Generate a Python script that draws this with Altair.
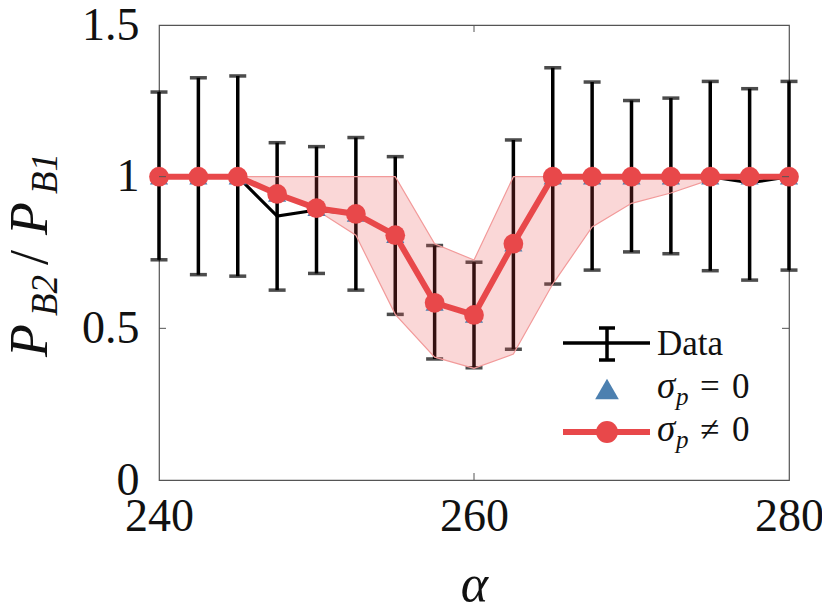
import altair as alt
import pandas as pd

alpha = [240, 242.5, 245, 247.5, 250, 252.5, 255, 257.5, 260, 262.5, 265, 267.5, 270, 272.5, 275, 277.5, 280]
data_val = [1.0, 1.0, 1.0, 0.87, 0.89, 0.877, 0.806, 0.586, 0.544, 0.776, 1.0, 1.0, 1.0, 1.0, 1.0, 0.98, 1.0]
err_hi = [1.279, 1.326, 1.332, 1.112, 1.099, 1.129, 1.066, 0.773, 0.718, 1.121, 1.359, 1.312, 1.251, 1.259, 1.314, 1.29, 1.314]
err_lo = [0.726, 0.677, 0.672, 0.626, 0.681, 0.626, 0.546, 0.399, 0.37, 0.431, 0.646, 0.692, 0.752, 0.746, 0.69, 0.659, 0.692]
sigma0 = [1.0, 1.0, 1.0, 0.943, 0.896, 0.877, 0.807, 0.584, 0.544, 0.779, 1.0, 1.0, 1.0, 1.0, 1.0, 1.0, 1.0]
sigma_nz = [1.0, 1.0, 1.0, 0.943, 0.896, 0.877, 0.807, 0.584, 0.544, 0.779, 1.0, 1.0, 1.0, 1.0, 1.0, 1.0, 1.0]
band_hi = [1.0, 1.0, 1.0, 1.0, 1.0, 1.0, 1.0, 0.779, 0.725, 1.0, 1.0, 1.0, 1.0, 1.0, 1.0, 1.0, 1.0]
band_lo = [1.0, 1.0, 1.0, 0.943, 0.89, 0.807, 0.546, 0.405, 0.368, 0.415, 0.646, 0.834, 0.912, 0.946, 0.99, 1.0, 1.0]

x_ticks = [240, 260, 280]
y_ticks = [0, 0.5, 1, 1.5]
x_inner_ticks = [260]
y_inner_ticks = [0.5, 1]

RED = "#E8484A"
BLUE = "#4C80B0"
FONT = "Liberation Serif"

W, H = 630, 455

df = pd.DataFrame({
    "alpha": alpha, "data": data_val, "hi": err_hi, "lo": err_lo,
    "s0": sigma0, "snz": sigma_nz, "bhi": band_hi, "blo": band_lo,
})

xs = alt.Scale(domain=[240, 280], nice=False, zero=False)
ys = alt.Scale(domain=[0, 1.5], nice=False)

X = alt.X("alpha:Q", scale=xs, axis=alt.Axis(
    values=x_ticks, format="d", title="α", ticks=False, domain=False, grid=False,
    labelFlush=False, labelOverlap=False,
    labelFont=FONT, labelFontSize=46, labelColor="#111", labelPadding=14,
    titleFont=FONT, titleFontSize=52, titleFontStyle="italic", titleFontWeight="normal",
    titleColor="#111", titlePadding=20))
Xp = alt.X("alpha:Q", scale=xs)

base = alt.Chart(df)

bars = base.mark_rule(color="black", strokeWidth=3.5).encode(
    x=X,
    y=alt.Y("lo:Q", scale=ys, axis=alt.Axis(
        values=y_ticks, labelExpr="datum.value == 0 ? '0' : format(datum.value, '.2~f')",
        title=None, ticks=False, domain=False, grid=False,
        labelFlush=False, labelOverlap=False,
        labelFont=FONT, labelFontSize=46, labelColor="#111", labelPadding=20)),
    y2="hi:Q")
cap_hi = base.mark_tick(color="black", thickness=3.5, size=17, orient="horizontal").encode(
    x=Xp, y=alt.Y("hi:Q", scale=ys))
cap_lo = base.mark_tick(color="black", thickness=3.5, size=17, orient="horizontal").encode(
    x=Xp, y=alt.Y("lo:Q", scale=ys))
data_line = base.mark_line(color="black", strokeWidth=3.2).encode(
    x=Xp, y=alt.Y("data:Q", scale=ys))
band = base.mark_area(fill=RED, fillOpacity=0.22, stroke="#F29A9A", strokeWidth=1.2, strokeOpacity=1).encode(
    x=Xp, y=alt.Y("blo:Q", scale=ys), y2="bhi:Q")
tri = base.mark_point(shape="triangle-up", filled=True, color=BLUE, opacity=1, size=330).encode(
    x=Xp, y=alt.Y("s0:Q", scale=ys))
red_line = base.mark_line(color=RED, strokeWidth=6).encode(
    x=Xp, y=alt.Y("snz:Q", scale=ys))
red_pts = base.mark_circle(color=RED, opacity=1, size=390).encode(
    x=Xp, y=alt.Y("snz:Q", scale=ys))

# inward ticks (box style)
ytk = pd.DataFrame({"v": y_inner_ticks})
xtk = pd.DataFrame({"v": x_inner_ticks})
TK = "#555"
yt_left = alt.Chart(ytk).mark_rule(color=TK, strokeWidth=1).encode(
    y=alt.Y("v:Q", scale=ys), x=alt.value(0), x2=alt.value(7))
yt_right = alt.Chart(ytk).mark_rule(color=TK, strokeWidth=1).encode(
    y=alt.Y("v:Q", scale=ys), x=alt.value(W - 7), x2=alt.value(W))
xt_bot = alt.Chart(xtk).mark_rule(color=TK, strokeWidth=1).encode(
    x=alt.X("v:Q", scale=xs), y=alt.value(H - 7), y2=alt.value(H))
xt_top = alt.Chart(xtk).mark_rule(color=TK, strokeWidth=1).encode(
    x=alt.X("v:Q", scale=xs), y=alt.value(0), y2=alt.value(7))

one = pd.DataFrame({"a": [0]})

def txt(s, x, y, size, style="normal", angle=0, align="left", baseline="alphabetic"):
    return alt.Chart(one).mark_text(
        text=s, font=FONT, fontSize=size, fontStyle=style, color="#111",
        angle=angle, align=align, baseline=baseline).encode(
        x=alt.value(x), y=alt.value(y))

def seg(x1, x2, y1, y2, color, w):
    return alt.Chart(one).mark_rule(color=color, strokeWidth=w).encode(
        x=alt.value(x1), x2=alt.value(x2), y=alt.value(y1), y2=alt.value(y2))

# y-axis title: P_{B2}/P_{B1}
ytitle = [
    txt("P", -112, 332, 54, "italic", 270),
    txt("B2", -102, 291, 37, "italic", 270),
    txt("/", -112, 240, 54, "normal", 270),
    txt("P", -112, 210, 54, "italic", 270),
    txt("B1", -102, 169, 37, "italic", 270),
]

# legend
LX = 448
leg = [
    seg(404, 491, 318, 318, "black", 3.5),
    seg(LX, LX, 302, 336, "black", 3.5),
    seg(LX - 8, LX + 8, 303, 303, "black", 3.5),
    seg(LX - 8, LX + 8, 335, 335, "black", 3.5),
    txt("Data", 498, 330, 35),
    alt.Chart(one).mark_point(shape="triangle-up", filled=True, color=BLUE, opacity=1, size=560).encode(
        x=alt.value(LX), y=alt.value(364)),
    txt("σ", 498, 373, 37, "italic"),
    txt("p", 517, 380, 25, "italic"),
    txt("=", 541, 373, 35),
    txt("0", 573, 373, 35),
    seg(404, 491, 407, 407, RED, 6),
    alt.Chart(one).mark_circle(color=RED, opacity=1, size=480).encode(
        x=alt.value(LX), y=alt.value(407)),
    txt("σ", 498, 416, 37, "italic"),
    txt("p", 517, 423, 25, "italic"),
    txt("≠", 541, 416, 35),
    txt("0", 573, 416, 35),
]

chart = alt.layer(
    bars, cap_hi, cap_lo, data_line, band, tri, red_line, red_pts,
    yt_left, yt_right, xt_bot, xt_top, *ytitle, *leg
).properties(
    width=W, height=H,
    autosize=alt.AutoSizeParams(type="none"),
    padding={"left": 151, "top": 17, "right": 33, "bottom": 128},
    background="white",
).configure_view(stroke="#555", strokeWidth=1.2)

chart.save("out.html", embed_options={"renderer": "svg", "actions": False})
